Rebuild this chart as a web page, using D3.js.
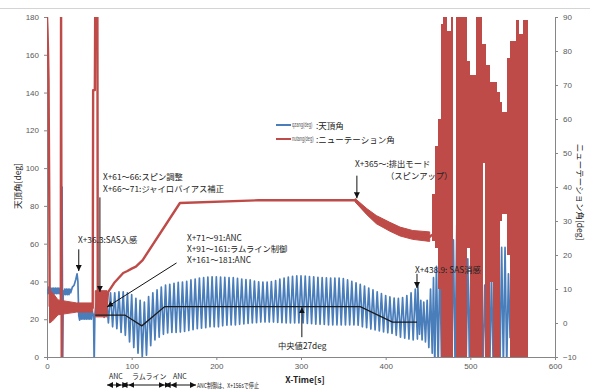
<!DOCTYPE html>
<html>
<head>
<meta charset="utf-8">
<script src="https://cdn.jsdelivr.net/npm/d3@7/dist/d3.min.js"></script>
<style>
    body { margin: 0; background: #fff; }
    svg { display: block; font-family: "Noto Sans CJK JP", "Noto Sans", sans-serif; }
</style>
</head>
<body>
<svg id="chart"></svg>
<script>
// --- data ---
const xTicks = [0, 100, 200, 300, 400, 500, 600];
const leftTicks = [0, 20, 40, 60, 80, 100, 120, 140, 160, 180];
const rightTicks = [-10, 0, 10, 20, 30, 40, 50, 60, 70, 80, 90];

const seriesNames = ["qzang(deg)", "nutang(deg)"];
const seriesLabels = [":天頂角", ":ニューテーション角"];

// qzang [s, deg] before the steady oscillation
const qzangEarly = [
    [0, 36], [1, 33.5], [2, 37], [3, 33.5], [4, 36.5], [5, 33.5], [6, 36.5], [7, 33.5], [8, 36.5],
    [9, 33.5], [10, 36.5], [11, 33.5], [12, 36.5], [13, 33.5], [14, 36.5], [15, 33.5], [16, 36.5],
    [17, 34], [17.8, 90], [18.5, -5], [19.2, 35], [20, 33], [21, 36], [22, 33], [23, 36], [24, 33],
    [25, 36], [26, 33], [27, 36], [28, 34], [30, 37], [32, 38], [34, 41], [35.5, 44], [36.5, 40],
    [37.5, 22], [38.5, 19.5], [39.5, 24], [40.5, 20], [41.5, 24.5], [42.5, 20], [43.5, 24.5],
    [44.5, 20], [45.5, 24.5], [46.5, 20], [47.5, 24.5], [48.5, 20], [49.5, 24.5], [50.5, 20],
    [51.5, 24.5], [52.5, 20], [53.5, 24], [55, 22], [55.7, -5], [56.5, 22], [58, 28]
];

// qzang oscillation, one entry per swing: [s, peak, trough]
const qzangCycles = [
    [60, 30, 22], [65, 31, 21], [70, 33, 18], [75, 34, 16], [80, 34, 15], [85, 34.5, 13],
    [90, 34.5, 11.5], [95, 34, 8], [100, 33, 5], [105, 31, 2], [110, 30, 0], [115, 29, 1],
    [120, 32, 6], [125, 34, 9], [130, 35.5, 10.5], [135, 37, 12], [140, 38, 12.7], [145, 38.5, 13],
    [150, 39, 13], [155, 39.5, 13.2], [160, 39.7, 13.5], [165, 40, 14], [170, 40.8, 14.5],
    [175, 41.3, 15], [180, 41.8, 15.3], [185, 42, 15.5], [190, 42.3, 16], [195, 42.4, 16],
    [200, 42.4, 16], [205, 42.3, 16.5], [210, 42.2, 16.8], [215, 42, 17], [220, 42, 17],
    [225, 41.7, 17.3], [230, 41.3, 17.5], [235, 41, 17.8], [240, 40.8, 18], [245, 40.2, 18.2],
    [250, 39.8, 18.5], [255, 39.7, 18.5], [260, 39.7, 18.5], [265, 39.9, 18.5], [270, 40.5, 18.3],
    [275, 41.2, 18.2], [280, 41.8, 18], [285, 42.3, 18], [290, 42.7, 18], [295, 42.9, 18],
    [300, 42.9, 18], [305, 42.8, 17.8], [310, 42.6, 17.6], [315, 42.4, 17.4], [320, 42.2, 17.3],
    [325, 42, 17.2], [330, 41.9, 17], [335, 41.8, 17], [340, 41.8, 17], [345, 41.8, 17],
    [350, 41.5, 17], [355, 40.8, 17], [360, 40, 17], [365, 39.3, 16.8], [370, 38.5, 16],
    [375, 37.5, 15.5], [380, 36.5, 14.8], [385, 35.5, 14.3], [390, 34.5, 13.8], [395, 33.5, 13.3],
    [400, 32.5, 12.8], [405, 31.8, 12.5], [410, 31.2, 11.5], [415, 31, 10.5], [420, 31.5, 10],
    [425, 32.5, 9.5], [430, 34, 9], [435, 36, 9.5]
];

// qzang after SAS off
const qzangLate = [
    [438, 38], [440, 12], [441.5, 30], [443, 9], [445, 29], [447, 8], [449, 30], [451, 5],
    [453, 36], [455, 2], [456.5, 42], [458, -5], [460, 48], [462, -5], [464, 52], [466, -5],
    [468, 46], [470, -5], [472, 50], [474, -5], [476, 55], [478, -5], [480, 62], [482, -5],
    [484, 70], [486, -5], [488.5, 78], [491, -5], [493, 66], [495, -5], [497, 52], [499, -5],
    [501, 58], [503, -5], [505, 46], [507, -5], [509, 50], [511, -5], [513, 40], [515, -5],
    [517, 38], [519, -5], [521, 42], [523, -5], [525, 44], [527, -5], [529, 48], [531, -5],
    [533, 55], [535, -5], [537, 58], [539, -5], [541, 58], [543, -5], [545, 44], [547, 10]
];

// nutang centre line [s, deg] (right axis)
const nutang = [
    [0, 90], [0.6, 86], [1.2, 80], [1.8, 71.5], [2.6, 40], [3.2, 5], [16.3, 5], [16.6, 95],
    [17.4, -15], [18, 4.5], [54, 4.5], [54.5, 68.5], [56.5, 68.5], [57, 95], [59.5, 95], [60, 5],
    [70, 5], [71, 6], [72, 9], [80, 12], [90, 14.7], [95, 15.3], [100, 16], [105, 16.6],
    [113, 18.5], [157, 35.3], [250, 36.1], [364, 36.1], [367, 35.2], [378, 32.6], [389, 30.3],
    [405, 28.2], [417, 26.8], [432, 25.9], [452, 25.3], [455, 26]
];

// nutang noise band [s, low, high]
const nutangNoiseEarly = [
    [3, 0, 9.7], [6, 0.5, 9], [8, 1, 8.5], [13, 2.4, 6.8], [35, 3.2, 5.9], [54, 3.2, 5.9]
];
const nutangBlock = [[57, 1.8, 9.5], [71, 1.8, 9.5]];
const nutangNoiseLate = [
    [364, 35.6, 36.6], [378, 31.8, 33.6], [389, 29.2, 31.6], [405, 27, 29.6], [417, 25.6, 28.2],
    [432, 24.6, 27.2], [452, 24, 26.8]
];

// nutang after SAS off, filled swings: [from s, to s, top, bottom]
const nutangChaos = [
    [455, 458, 38, 24], [458, 462, 52, 22], [462, 465, 60, 10], [465, 468, 88, -10],
    [468, 472.5, 90, -10], [472.5, 477, 86, -10], [477, 479.5, 90, -10], [482.5, 496, 90, -10],
    [496, 500, 77, 22], [500, 506.5, 73, -10], [506.5, 513.5, 90, -10], [513.5, 514.5, 82, -10],
    [514.5, 517, 82, 47], [517, 518.5, 82, -10], [518.5, 523, 76, -10], [523, 527, 71, 12],
    [527, 531, 71, -10], [531, 535, 68, -10], [535, 537, 65, 30], [537, 543, 62, 32],
    [543, 547, 78, 20], [547, 554, 83, -10], [554, 558, 89, -10], [558, 562, 85, -10],
    [562, 568, 89, -10]
];

// median of qzang (black line)
const medianLine = [
    [57, 22.2], [92, 22.2], [112, 16.5], [139, 26.7], [370, 26.7], [408, 18.5], [437, 18.5]
];

// control phases under the x axis [from s, to s]
const phaseArrows = [[71, 88], [88, 96], [96, 139], [139, 146], [146, 176]];
const phaseLabels = ["ANC", "ラムライン", "ANC"];

const notes = {
    sasOn: "X+36.3:SAS入感",
    spin1: "X+61～66:スピン調整",
    spin2: "X+66～71:ジャイロバイアス補正",
    anc1: "X+71～91:ANC",
    anc2: "X+91～161:ラムライン制御",
    anc3: "X+161～181:ANC",
    eject1: "X+365～:排出モード",
    eject2: "（スピンアップ）",
    sasOff: "X+438.9: SAS消感",
    median: "中央値27deg",
    ancStop: "ANC制御は、X+156sで停止"
};

// --- layout ---
const width = 590;
const height = 392;
const plot = { left: 47, right: 555, top: 17, bottom: 357 };
const blueColor = "#4a7ebb";
const redColor = "#be4b48";
const axisColor = "#868686";
const textColor = "#595959";

const svg = d3.select("#chart").attr("width", width).attr("height", height);

const x = d3.scaleLinear().domain([0, 600]).range([plot.left, plot.right]);
const yLeft = d3.scaleLinear().domain([0, 180]).range([plot.bottom, plot.top]);
const yRight = d3.scaleLinear().domain([-10, 90]).range([plot.bottom, plot.top]);

svg.append("line")
    .attr("x1", 0).attr("x2", width).attr("y1", 8.5).attr("y2", 8.5)
    .attr("stroke", "#d4d4d4").attr("stroke-width", 1);

const defs = svg.append("defs");
defs.append("clipPath").attr("id", "plotClip")
    .append("rect")
    .attr("x", plot.left).attr("y", plot.top)
    .attr("width", plot.right - plot.left).attr("height", plot.bottom - plot.top);

defs.append("marker")
    .attr("id", "head")
    .attr("viewBox", "0 0 10 10")
    .attr("refX", 10).attr("refY", 5)
    .attr("markerUnits", "userSpaceOnUse")
    .attr("markerWidth", 6).attr("markerHeight", 6)
    .attr("orient", "auto-start-reverse")
    .append("path").attr("d", "M0,0 L10,5 L0,10 z").attr("fill", "#111");

// axes
function styleAxis(g) {
    g.select(".domain").attr("stroke", axisColor);
    g.selectAll(".tick line").attr("stroke", axisColor);
    g.selectAll(".tick text").attr("fill", textColor).style("font-size", "8px")
        .style("font-family", "Liberation Sans, Arial, sans-serif");
}

svg.append("g")
    .attr("transform", `translate(0, ${plot.bottom})`)
    .call(d3.axisBottom(x).tickValues(xTicks).tickSize(3).tickPadding(3).tickSizeOuter(0))
    .call(styleAxis);

svg.append("g")
    .attr("transform", `translate(${plot.left}, 0)`)
    .call(d3.axisLeft(yLeft).tickValues(leftTicks).tickSize(3).tickPadding(5).tickSizeOuter(0))
    .call(styleAxis);

svg.append("g")
    .attr("transform", `translate(${plot.right}, 0)`)
    .call(d3.axisRight(yRight).tickValues(rightTicks).tickSize(3).tickPadding(5).tickSizeOuter(0))
    .call(styleAxis);

// series
const marks = svg.append("g").attr("clip-path", "url(#plotClip)");

const qzangPoints = qzangEarly.slice();
qzangCycles.forEach(([t, peak, trough]) => {
    qzangPoints.push([t, peak], [t + 2.5, trough]);
});
qzangLate.forEach((d) => qzangPoints.push(d));

const leftLine = d3.line().x((d) => x(d[0])).y((d) => yLeft(d[1]));
const rightLine = d3.line().x((d) => x(d[0])).y((d) => yRight(d[1]));
const rightBand = d3.area().x((d) => x(d[0])).y0((d) => yRight(d[1])).y1((d) => yRight(d[2]));

marks.append("path")
    .datum(qzangPoints)
    .attr("fill", "none")
    .attr("stroke", blueColor)
    .attr("stroke-width", 1.7)
    .attr("stroke-linejoin", "round")
    .attr("d", leftLine);

[nutangNoiseEarly, nutangBlock, nutangNoiseLate].forEach((band) => {
    marks.append("path")
        .datum(band)
        .attr("fill", redColor)
        .attr("stroke", redColor)
        .attr("stroke-width", 1)
        .attr("d", rightBand);
});

marks.append("path")
    .datum(nutang)
    .attr("fill", "none")
    .attr("stroke", redColor)
    .attr("stroke-width", 2.4)
    .attr("stroke-linejoin", "round")
    .attr("d", rightLine);

marks.selectAll("rect.chaos")
    .data(nutangChaos)
    .join("rect")
    .attr("class", "chaos")
    .attr("x", (d) => Math.round(x(d[0])))
    .attr("width", (d) => Math.max(1, Math.round(x(d[1])) - Math.round(x(d[0]))))
    .attr("y", (d) => Math.round(yRight(d[2])))
    .attr("height", (d) => Math.round(yRight(d[3])) - Math.round(yRight(d[2])))
    .attr("fill", redColor)
    .attr("shape-rendering", "crispEdges");

svg.append("path")
    .datum(medianLine)
    .attr("fill", "none")
    .attr("stroke", "#1a1a1a")
    .attr("stroke-width", 1.3)
    .attr("d", leftLine);

// legend
const legend = svg.append("g");
[blueColor, redColor].forEach((color, i) => {
    const ly = 125 + i * 14;
    legend.append("line")
        .attr("x1", 276).attr("x2", 291).attr("y1", ly).attr("y2", ly)
        .attr("stroke", color).attr("stroke-width", 2);
    // the series name is drawn narrow, as in the picture
    legend.append("text")
        .attr("transform", `translate(292, ${ly}) scale(0.62, 1)`)
        .attr("dy", "0.35em")
        .style("font-size", "6.5px").attr("fill", "#555")
        .style("font-family", "Liberation Sans, Arial, sans-serif")
        .text(seriesNames[i]);
    legend.append("text")
        .attr("x", 316).attr("y", ly + 1).attr("dy", "0.35em")
        .style("font-size", "8.5px").attr("fill", "#222")
        .text(seriesLabels[i]);
});

// annotations
const ann = svg.append("g");

function arrow(x1, y1, x2, y2) {
    ann.append("line")
        .attr("x1", x(x1)).attr("y1", yLeft(y1))
        .attr("x2", x(x2)).attr("y2", yLeft(y2))
        .attr("stroke", "#111").attr("stroke-width", 1)
        .attr("marker-end", "url(#head)");
}

function note(px, py, text, size = 8.3) {
    return ann.append("text")
        .attr("x", px).attr("y", py).attr("dy", "0.35em")
        .style("font-size", `${size}px`).attr("fill", "#222")
        .text(text);
}

arrow(37.5, 57, 37.5, 45.5);
arrow(62.5, 84.5, 62.5, 34.5);
arrow(153, 49.8, 71, 26.5);
arrow(366, 96, 366, 84);
arrow(437, 44, 437, 36.5);
arrow(301, 10.5, 301, 26.3);

note(78, 240, notes.sasOn);
note(103, 177, notes.spin1);
note(103, 189, notes.spin2);
note(187, 238, notes.anc1);
note(187, 249, notes.anc2);
note(187, 260, notes.anc3);
note(355, 164, notes.eject1);
note(386, 176, notes.eject2);
note(415, 270, notes.sasOff);
note(278, 346, notes.median);

// control phases under the axis
phaseArrows.forEach(([t0, t1]) => {
    ann.append("line")
        .attr("x1", x(t0)).attr("x2", x(t1)).attr("y1", 385).attr("y2", 385)
        .attr("stroke", "#111").attr("stroke-width", 1)
        .attr("marker-start", "url(#head)")
        .attr("marker-end", "url(#head)");
});
[109, 132, 173].forEach((px, i) => note(px, 377, phaseLabels[i], 7));
note(197, 386, notes.ancStop, 6.5)
    .attr("textLength", 62).attr("lengthAdjust", "spacingAndGlyphs");

// axis titles
svg.append("text")
    .attr("x", 305).attr("y", 380).attr("dy", "0.35em")
    .attr("text-anchor", "middle")
    .style("font-size", "8.5px").style("font-weight", "bold").attr("fill", "#222")
    .text("X-Time[s]");

svg.append("text")
    .attr("transform", "translate(18, 186) rotate(-90)")
    .attr("text-anchor", "middle").attr("dy", "0.35em")
    .style("font-size", "8.5px").attr("fill", "#222")
    .text("天頂角[deg]");

svg.append("text")
    .attr("transform", "translate(580, 192) rotate(90)")
    .attr("text-anchor", "middle").attr("dy", "0.35em")
    .style("font-size", "8.5px").attr("fill", "#222")
    .text("ニューテーション角[deg]");
</script>
</body>
</html>
